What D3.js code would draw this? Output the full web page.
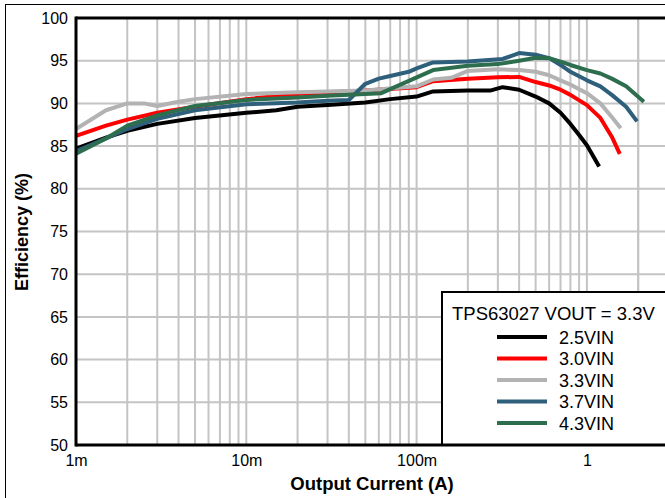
<!DOCTYPE html>
<html><head><meta charset="utf-8">
<script src="https://cdn.jsdelivr.net/npm/d3@7"></script>
<style>body{margin:0;background:#fff}svg{display:block;font-family:"Liberation Sans",Arial,sans-serif}</style>
</head><body><svg id="c" width="665" height="498"></svg>
<script>
const seriesNames = ["2.5VIN","3.0VIN","3.3VIN","3.7VIN","4.3VIN"];
const seriesColors = ["#000000","#ff0000","#b3b3b3","#2e5f7b","#2d6e4e"];
const legendTitle = "TPS63027 VOUT = 3.3V";
const xTickValues = [0.001,0.01,0.1,1];
const xTickLabels = ["1m","10m","100m","1"];
const yTickValues = [50,55,60,65,70,75,80,85,90,95,100];

const vin25 = [[0.001,84.7],[0.0015,86.0],[0.002,86.8],[0.003,87.6],[0.005,88.3],[0.01,88.9],[0.015,89.2],[0.02,89.6],[0.03,89.8],[0.05,90.1],[0.07,90.5],[0.1,90.8],[0.125,91.4],[0.2,91.5],[0.27,91.5],[0.32,91.9],[0.4,91.6],[0.5,90.8],[0.6,90.0],[0.7,88.9],[0.8,87.6],[0.9,86.3],[1.0,85.1],[1.18,82.6]];
const vin30 = [[0.001,86.2],[0.0015,87.4],[0.002,88.1],[0.003,88.9],[0.005,89.6],[0.01,90.5],[0.02,91.1],[0.05,91.5],[0.1,91.9],[0.125,92.6],[0.2,92.9],[0.3,93.05],[0.4,93.1],[0.5,92.5],[0.6,92.1],[0.7,91.6],[0.8,91.0],[1.0,89.8],[1.2,88.3],[1.4,86.1],[1.56,84.1]];
const vin33 = [[0.001,87.0],[0.0015,89.2],[0.002,90.0],[0.0025,90.0],[0.003,89.7],[0.004,90.2],[0.005,90.5],[0.01,91.1],[0.02,91.3],[0.05,91.5],[0.1,92.0],[0.125,92.8],[0.16,93.0],[0.2,93.8],[0.3,94.0],[0.4,93.9],[0.5,93.7],[0.6,93.3],[0.7,92.7],[0.8,92.2],[1.0,91.2],[1.2,90.0],[1.4,88.4],[1.58,87.1]];
const vin37 = [[0.001,84.4],[0.0015,85.9],[0.002,87.0],[0.003,88.2],[0.005,89.2],[0.01,89.9],[0.02,90.1],[0.03,90.3],[0.04,90.4],[0.05,92.3],[0.06,92.9],[0.07,93.2],[0.09,93.7],[0.1,94.1],[0.125,94.8],[0.2,94.9],[0.32,95.2],[0.4,95.9],[0.5,95.7],[0.6,95.3],[0.7,94.5],[0.8,93.7],[1.0,92.7],[1.2,92.0],[1.4,91.0],[1.7,89.6],[1.97,87.9]];
const vin43 = [[0.001,84.1],[0.0015,85.9],[0.002,87.4],[0.003,88.6],[0.005,89.7],[0.01,90.4],[0.02,90.7],[0.03,90.9],[0.05,91.1],[0.062,91.2],[0.125,93.9],[0.2,94.4],[0.3,94.6],[0.4,95.0],[0.5,95.35],[0.6,95.3],[0.7,94.9],[0.8,94.5],[1.0,93.9],[1.2,93.5],[1.4,92.9],[1.7,92.0],[2.16,90.2]];
const allSeries = [vin25, vin30, vin33, vin37, vin43];

const svg = d3.select("#c");
const L = 76, T = 18, B = 445, decade = 170.3;
const x = d3.scaleLog().domain([0.001, 1]).range([L, L + 3*decade]);
const y = d3.scaleLinear().domain([50, 100]).range([B, T]);
const R = 700;

// outer frame
svg.append("rect").attr("x",5.5).attr("y",4.5).attr("width",700).attr("height",600)
  .attr("fill","none").attr("stroke","#000").attr("stroke-width",1);

// gridlines
const g = svg.append("g");
const minor = [];
for (let e = -3; e <= 0; e++) for (let m = 1; m <= 9; m++) {
  const v = m * Math.pow(10, e);
  if (v >= 0.001 && x(v) < R) minor.push(v);
}
minor.push(2, 3);
g.selectAll("line.vx").data(minor.filter(v => x(v) < 665 + 2)).enter().append("line")
  .attr("x1", d => x(d)).attr("x2", d => x(d)).attr("y1", T).attr("y2", B)
  .attr("stroke", "#c4c4c4").attr("stroke-width", 2);
g.selectAll("line.hy").data(yTickValues.filter(v => v > 50 && v < 100)).enter().append("line")
  .attr("x1", L).attr("x2", R).attr("y1", d => y(d)).attr("y2", d => y(d))
  .attr("stroke", "#c4c4c4").attr("stroke-width", 2);

// series
const line = d3.line().x(d => x(d[0])).y(d => y(d[1]));
allSeries.forEach((s, i) => {
  svg.append("path").datum(s).attr("d", line).attr("fill","none")
    .attr("stroke", seriesColors[i]).attr("stroke-width", 4)
    .attr("stroke-linejoin","round");
});

// axes lines (frame)
svg.append("line").attr("x1",L).attr("x2",R).attr("y1",T).attr("y2",T).attr("stroke","#000").attr("stroke-width",3);
svg.append("line").attr("x1",L).attr("x2",L).attr("y1",T-1.5).attr("y2",B+1.5).attr("stroke","#000").attr("stroke-width",3);

// tick labels
const yAxis = d3.axisLeft(y).tickValues(yTickValues).tickSize(0).tickPadding(8);
const ya = svg.append("g").attr("transform",`translate(${L},0)`).call(yAxis);
ya.select(".domain").remove();
ya.selectAll("text").attr("font-size",16).attr("fill","#000").attr("font-family","Liberation Sans, Arial, sans-serif");

const xAxis = d3.axisBottom(x).tickValues(xTickValues).tickFormat((d,i) => xTickLabels[i]).tickSize(0).tickPadding(10);
const xa = svg.append("g").attr("transform",`translate(0,${B})`).call(xAxis);
xa.select(".domain").remove();
xa.selectAll("text").attr("font-size",16).attr("fill","#000").attr("font-family","Liberation Sans, Arial, sans-serif");

// axis titles
svg.append("text").attr("x",372).attr("y",490).attr("text-anchor","middle")
  .attr("font-size",18.5).attr("font-weight","bold").text("Output Current (A)");
svg.append("text").attr("transform","translate(28,232) rotate(-90)").attr("text-anchor","middle")
  .attr("font-size",18).attr("font-weight","bold").text("Efficiency (%)");

// legend
const lx = 442, ly = 292;
svg.append("rect").attr("x",lx).attr("y",ly).attr("width",300).attr("height",B-ly)
  .attr("fill","#fff").attr("stroke","#000").attr("stroke-width",2);
svg.append("line").attr("x1",L).attr("x2",R).attr("y1",B).attr("y2",B).attr("stroke","#000").attr("stroke-width",3);
svg.append("text").attr("x",452).attr("y",320).attr("font-size",18.5).text(legendTitle);
seriesNames.forEach((n, i) => {
  const yy = 337 + i * 21.5;
  svg.append("line").attr("x1",497).attr("x2",547).attr("y1",yy).attr("y2",yy)
    .attr("stroke", seriesColors[i]).attr("stroke-width",4);
  svg.append("text").attr("x",559).attr("y",yy+6.5).attr("font-size",18).text(n);
});
</script></body></html>
